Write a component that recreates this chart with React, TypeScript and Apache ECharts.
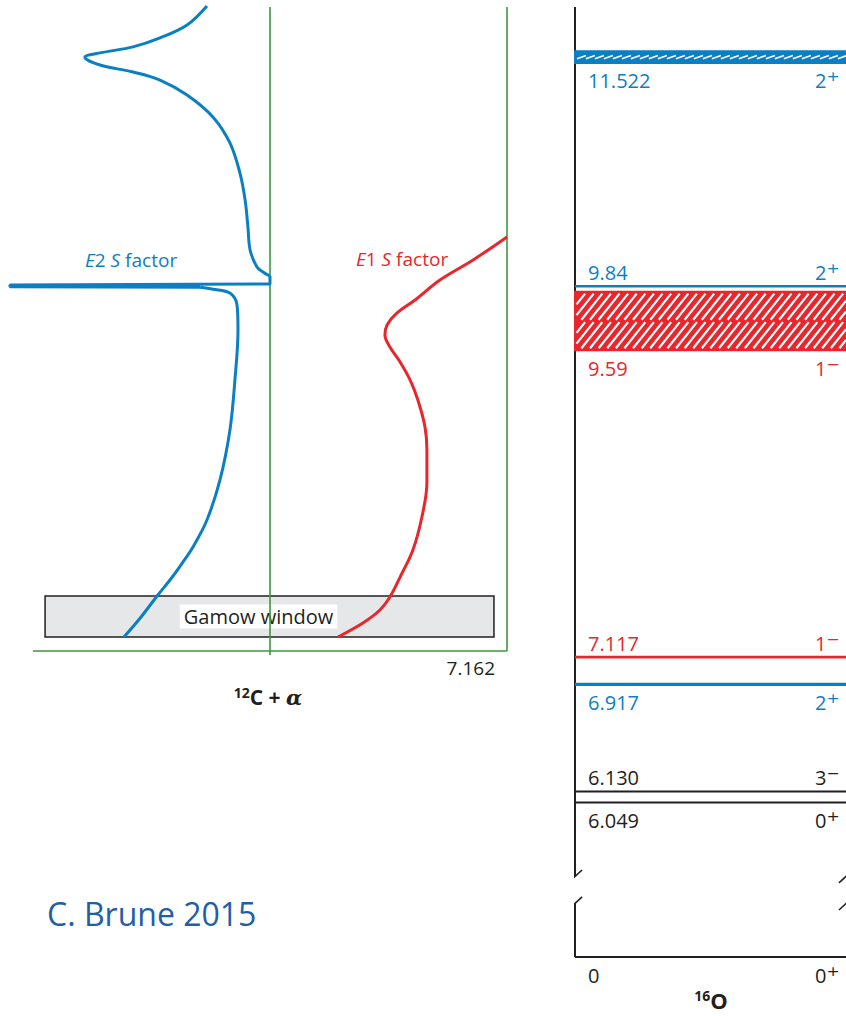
import React, { useEffect, useRef } from "react";
import * as echarts from "echarts";

// ---- Energy scale (excitation energy in 16O, MeV) ----
const ALPHA_THRESHOLD = 7.162;
const AXIS_TOP_E = 11.89;
const GROUND_AXIS_POS = 4.915; // position where E = 0 is drawn, below the axis break
const BREAK_UPPER_E = 5.51;
const BREAK_LOWER_E = 5.31;

// ---- 16O levels ----
const LEVEL_ENERGIES = [11.522, 9.84, 9.585, 7.117, 6.917, 6.13, 6.049, 0];
const LEVEL_LABELS = ["11.522", "9.84", "9.59", "7.117", "6.917", "6.130", "6.049", "0"];
const LEVEL_SPINS = ["2⁺", "2⁺", "1⁻", "1⁻", "2⁺", "3⁻", "0⁺", "0⁺"];
const LEVEL_WIDTHS = [0.085, 0, 0.43, 0, 0, 0, 0, 0];

// ---- S-factor curves: [relative S (E1 → right, E2 → left), excitation energy] ----
const E2_UPPER = [
  [-26.6, 11.898], [-35.0, 11.758], [-46.4, 11.663], [-57.8, 11.597], [-71.7, 11.553],
  [-78.1, 11.522], [-71.7, 11.464], [-57.8, 11.413], [-46.4, 11.354], [-35.0, 11.244],
  [-24.1, 11.083], [-16.9, 10.892], [-12.7, 10.672], [-10.5, 10.473], [-9.3, 10.275],
  [-8.4, 10.106], [-5.5, 9.981], [-3.0, 9.945], [0, 9.915],
];
const E2_SPIKE = [
  [0, 9.915], [0, 9.857], [-109.7, 9.849], [-109.7, 9.836], [-29.5, 9.832],
];
const E2_LOWER = [
  [-29.5, 9.832], [-24.1, 9.818], [-16.9, 9.79], [-13.9, 9.7], [-13.5, 9.519],
  [-14.8, 9.152], [-16.9, 8.785], [-21.1, 8.418], [-26.6, 8.124], [-32.5, 7.926],
  [-37.6, 7.793], [-42.2, 7.683], [-47.3, 7.573], [-54.4, 7.412], [-61.6, 7.265],
];
const E1_CURVE = [
  [100, 10.202], [85.7, 10.033], [71.7, 9.886], [61.2, 9.739], [53.6, 9.644],
  [49.4, 9.556], [48.5, 9.482], [50.6, 9.394], [54.9, 9.284], [59.1, 9.152],
  [62.4, 9.005], [65.4, 8.807], [66.2, 8.638], [66.2, 8.395], [64.1, 8.146],
  [60.3, 7.904], [54.9, 7.705], [50.6, 7.558], [46.4, 7.463], [39.2, 7.368],
  [28.7, 7.265],
];
const GAMOW_WINDOW_E = [7.265, 7.566];
const GAMOW_S_RANGE = [-94.9, 94.5];
const FRAME_S_RANGE = [-100, 100];
const AXIS_S_RANGE = [-109.7, 100];

// ---- styles ----
const BLUE = "#0b7fc3";
const RED = "#e8262b";
const GREEN = "#3a9a3c";
const INK = "#231f20";
const FONT = "'Open Sans', 'Noto Sans', sans-serif";

const colorFor = (spin: string) =>
  spin.startsWith("2") ? BLUE : spin.startsWith("1") ? RED : INK;
const LABEL_SIDE = ["below", "above", "below", "above", "below", "above", "below", "below"];
const LINE_WIDTH = [2.5, 2.6, 2, 2.6, 3.2, 2, 2, 2];

function hatch(
  x0: number, x1: number, yT: number, yB: number,
  slope: number, hs: number, color: string, lw: number
) {
  const out: any[] = [];
  const cStart = slope * x0 + yT;
  const cEnd = slope * x1 + yB;
  for (let c = cStart; c <= cEnd; c += hs * slope) {
    const xa = Math.max(x0, (c - yB) / slope);
    const xb = Math.min(x1, (c - yT) / slope);
    if (xb <= xa) continue;
    out.push({
      type: "line",
      shape: { x1: xa, y1: c - slope * xa, x2: xb, y2: c - slope * xb },
      style: { stroke: color, lineWidth: lw },
    });
  }
  return out;
}

export default function App() {
  const ref = useRef<HTMLDivElement>(null);

  useEffect(() => {
    if (!ref.current) return;
    const chart = echarts.init(ref.current, null, { renderer: "svg" });

    const plotE = (e: number) => (e > 1 ? e : GROUND_AXIS_POS);
    const levelData = LEVEL_ENERGIES.map((e, i) => [0, plotE(e), LEVEL_WIDTHS[i], i]);

    const curve = (data: number[][], color: string, name: string, smooth: any = 0.35) => ({
      type: "line",
      name,
      xAxisIndex: 0,
      yAxisIndex: 0,
      data,
      symbol: "none",
      smooth,
      clip: false,
      z: 6,
      lineStyle: { color, width: 3 },
      silent: true,
    });

    const seg = (data: number[][], color: string, width: number, grid: number, z = 3) => ({
      type: "line",
      xAxisIndex: grid,
      yAxisIndex: grid,
      data,
      symbol: "none",
      clip: false,
      z,
      silent: true,
      lineStyle: { color, width },
    });

    const gamowArea = [[
      { coord: [GAMOW_S_RANGE[0], GAMOW_WINDOW_E[1]] },
      { coord: [GAMOW_S_RANGE[1], GAMOW_WINDOW_E[0]] },
    ]];

    const option: any = {
      animation: false,
      grid: [
        { left: 10, top: 7, width: 497, height: 644 },
        { left: 575, top: 7, width: 271, height: 950 },
      ],
      xAxis: [
        { gridIndex: 0, type: "value", min: AXIS_S_RANGE[0], max: AXIS_S_RANGE[1], show: false },
        { gridIndex: 1, type: "value", min: 0, max: 1, show: false },
      ],
      yAxis: [
        { gridIndex: 0, type: "value", min: ALPHA_THRESHOLD, max: AXIS_TOP_E, show: false },
        { gridIndex: 1, type: "value", min: GROUND_AXIS_POS, max: AXIS_TOP_E, show: false },
      ],
      series: [
        {
          type: "line", xAxisIndex: 0, yAxisIndex: 0, data: [], z: 1, silent: true,
          markArea: {
            silent: true,
            itemStyle: { color: "#e6e7e8", borderColor: INK, borderWidth: 1.5 },
            label: { show: false },
            data: gamowArea,
          },
        },
        // green frame
        seg([[FRAME_S_RANGE[0], ALPHA_THRESHOLD], [FRAME_S_RANGE[1], ALPHA_THRESHOLD]], GREEN, 1.6, 0, 3),
        seg([[0, 7.132], [0, AXIS_TOP_E]], GREEN, 1.6, 0, 3),
        seg([[FRAME_S_RANGE[1], ALPHA_THRESHOLD], [FRAME_S_RANGE[1], AXIS_TOP_E]], GREEN, 1.6, 0, 3),
        {
          type: "line", xAxisIndex: 0, yAxisIndex: 0, data: [], z: 5, silent: true,
          markArea: {
            silent: true,
            itemStyle: { color: "rgba(0,0,0,0)", borderWidth: 0 },
            label: {
              show: true, position: "inside", formatter: "Gamow window",
              backgroundColor: "#ffffff", padding: [3, 4, 1, 4],
              fontSize: 20, fontFamily: FONT, color: INK, offset: [-11, 0],
            },
            data: gamowArea,
          },
        },
        curve(E2_UPPER, BLUE, "E2 upper"),
        curve(E2_SPIKE, BLUE, "E2 resonance", false),
        curve(E2_LOWER, BLUE, "E2 lower"),
        curve(E1_CURVE, RED, "E1"),
        // level scheme axis with break
        seg([[0, AXIS_TOP_E], [0, BREAK_UPPER_E]], INK, 2, 1),
        seg([[0, BREAK_LOWER_E], [0, GROUND_AXIS_POS]], INK, 2, 1),
        seg([[-0.026, 5.459], [0.026, 5.554]], INK, 1.6, 1),
        seg([[-0.026, 5.26], [0.026, 5.356]], INK, 1.6, 1),
        seg([[0.974, 5.459], [1.026, 5.554]], INK, 1.6, 1),
        seg([[0.974, 5.26], [1.026, 5.356]], INK, 1.6, 1),
        {
          type: "custom",
          xAxisIndex: 1,
          yAxisIndex: 1,
          clip: false,
          silent: true,
          z: 4,
          data: levelData,
          renderItem: (_params: any, api: any) => {
            const e = api.value(1);
            const w = api.value(2);
            const i = api.value(3);
            const p0 = api.coord([0, e]);
            const x0 = p0[0];
            const yc = p0[1];
            const x1 = api.coord([1, e])[0];
            const color = colorFor(LEVEL_SPINS[i]);
            const children: any[] = [];
            let top = yc;
            let bottom = yc;
            if (w > 0) {
              const yT = api.coord([0, e + w / 2])[1];
              const yB = api.coord([0, e - w / 2])[1];
              top = yT;
              bottom = yB;
              children.push({
                type: "rect",
                shape: { x: x0, y: yT, width: x1 - x0, height: yB - yT },
                style: { fill: color, stroke: color, lineWidth: 2 },
              });
              if (color === RED) {
                children.push(...hatch(x0 + 1.5, x1, yT + 2, yc - 1.2, 1.25, 8.6, "#ffffff", 2.2));
                children.push(...hatch(x0 + 1.5, x1, yc + 1.2, yB - 2, 1.25, 8.6, "#ffffff", 2.2));
              } else {
                children.push(...hatch(x0 + 2, x1, yc - 1.6, yc + 1.6, 0.35, 9, "#ffffff", 1.6));
              }
            } else {
              children.push({
                type: "line",
                shape: { x1: x0, y1: yc, x2: x1, y2: yc },
                style: { stroke: color, lineWidth: LINE_WIDTH[i] },
              });
            }
            const ly = LABEL_SIDE[i] === "above" ? top - 14 : bottom + 18;
            children.push({
              type: "text",
              x: x0 + 13,
              y: ly,
              style: {
                text: LEVEL_LABELS[i], fill: color, fontSize: 20, fontFamily: FONT,
                align: "left", verticalAlign: "middle",
              },
            });
            const spin = LEVEL_SPINS[i];
            children.push({
              type: "text",
              x: x0 + 240,
              y: ly,
              style: {
                text: `{n|${spin.slice(0, 1)}}{s|${spin.slice(1)}}`,
                fill: color, fontSize: 20, fontFamily: FONT,
                align: "left", verticalAlign: "middle",
                rich: {
                  n: { fontSize: 20, fontFamily: FONT, fill: color, lineHeight: 24 },
                  s: { fontSize: 25, fontFamily: "'DejaVu Sans', sans-serif", fill: color, lineHeight: 24 },
                },
              },
            });
            return { type: "group", children };
          },
        },
      ],
      graphic: [
        {
          type: "text", x: 85, y: 260, silent: true,
          style: {
            text: "{i|E}{n|2 }{i|S}{n| factor}", align: "left", verticalAlign: "middle",
            fill: BLUE, fontSize: 19, fontFamily: FONT,
            rich: {
              i: { fontStyle: "italic", fontSize: 19, fontFamily: FONT, fill: BLUE },
              n: { fontSize: 19, fontFamily: FONT, fill: BLUE },
            },
          },
        },
        {
          type: "text", x: 356, y: 259, silent: true,
          style: {
            text: "{i|E}{n|1 }{i|S}{n| factor}", align: "left", verticalAlign: "middle",
            fill: RED, fontSize: 19, fontFamily: FONT,
            rich: {
              i: { fontStyle: "italic", fontSize: 19, fontFamily: FONT, fill: RED },
              n: { fontSize: 19, fontFamily: FONT, fill: RED },
            },
          },
        },
        {
          type: "text", x: 495, y: 668, silent: true,
          style: {
            text: "7.162", align: "right", verticalAlign: "middle",
            fill: INK, fontSize: 19, fontFamily: FONT,
          },
        },
        {
          type: "text", x: 268, y: 697, silent: true,
          style: {
            text: "{s|12}{m|C + }{a|α}", align: "center", verticalAlign: "middle",
            fill: INK, fontSize: 21, fontFamily: FONT,
            rich: {
              s: { fontSize: 14, fontWeight: "bold", fontFamily: FONT, fill: INK, verticalAlign: "top", lineHeight: 13 },
              m: { fontSize: 21, fontWeight: "bold", fontFamily: FONT, fill: INK, lineHeight: 24 },
              a: { fontSize: 21, fontWeight: "bold", fontStyle: "italic", fontFamily: "'DejaVu Serif', serif", fill: INK, lineHeight: 24 },
            },
          },
        },
        {
          type: "text", x: 711, y: 1000, silent: true,
          style: {
            text: "{s|16}{m|O}", align: "center", verticalAlign: "middle",
            fill: INK, fontSize: 22, fontFamily: FONT,
            rich: {
              s: { fontSize: 14, fontWeight: "bold", fontFamily: FONT, fill: INK, verticalAlign: "top", lineHeight: 13 },
              m: { fontSize: 22, fontWeight: "bold", fontFamily: FONT, fill: INK, lineHeight: 24 },
            },
          },
        },
        {
          type: "text", x: 47, y: 913, silent: true,
          style: {
            text: "C. Brune 2015", align: "left", verticalAlign: "middle",
            fill: "#1f5fa5", fontSize: 32, fontFamily: FONT,
          },
        },
      ],
    };

    chart.setOption(option);
    return () => chart.dispose();
  }, []);

  return (
    <div
      ref={ref}
      style={{ position: "absolute", left: 0, top: 0, width: 846, height: 1016, background: "#ffffff" }}
    />
  );
}
